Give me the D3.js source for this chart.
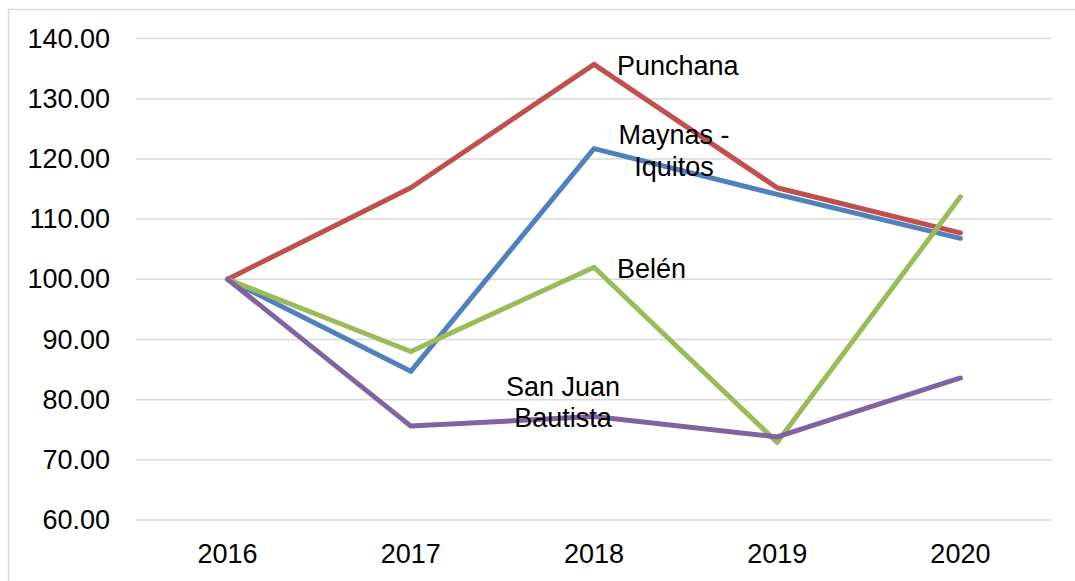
<!DOCTYPE html>
<html>
<head>
<meta charset="utf-8">
<script src="https://cdn.jsdelivr.net/npm/d3@7"></script>
<style>
  body { margin: 0; background: #fff; }
  text { font-family: "Liberation Sans", Arial, sans-serif; fill: #000; }
</style>
</head>
<body>
<div id="chart"></div>
<script>
// categories
var years = ['2016', '2017', '2018', '2019', '2020'];

// series values (index, 2016 = 100)
var maynas   = [100, 84.7, 121.7, 114.1, 106.8];
var punchana = [100, 115.2, 135.7, 115.2, 107.7];
var belen    = [100, 88.0, 102.0, 72.9, 113.7];
var sanJuan  = [100, 75.6, 77.2, 73.8, 83.6];

// y tick labels
var yTicks = [60, 70, 80, 90, 100, 110, 120, 130, 140];

var width = 1075, height = 581;
var margin = { left: 136, right: 23, top: 38.5, bottom: 61 };

var svg = d3.select('#chart')
  .append('svg')
  .attr('width', width)
  .attr('height', height);

// outer chart border (left + top only visible)
svg.append('path')
  .attr('d', 'M8.5,' + height + 'V9.5H' + width)
  .attr('fill', 'none')
  .attr('stroke', '#d9d9d9')
  .attr('stroke-width', 1.5);

var x = d3.scaleBand()
  .domain(years)
  .range([margin.left, width - margin.right]);

var y = d3.scaleLinear()
  .domain([60, 140])
  .range([height - margin.bottom, margin.top]);

function cx(d) { return x(d) + x.bandwidth() / 2; }

// gridlines
svg.append('g')
  .selectAll('line')
  .data(yTicks)
  .enter()
  .append('line')
  .attr('x1', margin.left)
  .attr('x2', width - margin.right)
  .attr('y1', function(d){ return y(d); })
  .attr('y2', function(d){ return y(d); })
  .attr('stroke', '#d9d9d9')
  .attr('stroke-width', 1.5);

// y axis labels
var yAxis = svg.append('g')
  .attr('transform', 'translate(' + margin.left + ',0)')
  .call(d3.axisLeft(y).tickValues(yTicks).tickFormat(d3.format('.2f')).tickSize(0).tickPadding(26));
yAxis.select('.domain').remove();
yAxis.selectAll('text')
  .attr('font-size', 27)
  .attr('fill', '#000')
  .style('font-family', '"Liberation Sans", Arial, sans-serif');

// x axis labels
var xAxis = svg.append('g')
  .attr('transform', 'translate(0,' + (height - margin.bottom) + ')')
  .call(d3.axisBottom(x).tickSize(0).tickPadding(24));
xAxis.select('.domain').remove();
xAxis.selectAll('text')
  .attr('font-size', 27)
  .attr('fill', '#000')
  .style('font-family', '"Liberation Sans", Arial, sans-serif');

// drawing order: later series on top
var series = [
  { name: 'Maynas', values: maynas, color: '#4F81BD' },
  { name: 'Punchana', values: punchana, color: '#C0504D' },
  { name: 'Belén', values: belen, color: '#9BBB59' },
  { name: 'San Juan Bautista', values: sanJuan, color: '#8064A2' }
];

var line = d3.line()
  .x(function(d, i){ return cx(years[i]); })
  .y(function(d){ return y(d); });

svg.append('g')
  .selectAll('path')
  .data(series)
  .enter()
  .append('path')
  .attr('d', function(s){ return line(s.values); })
  .attr('fill', 'none')
  .attr('stroke', function(s){ return s.color; })
  .attr('stroke-width', 5)
  .attr('stroke-linejoin', 'round')
  .attr('stroke-linecap', 'round');

// data labels near the 2018 point
var labels = [
  { lines: ['Punchana'], values: punchana, anchor: 'start', dx: 23, dy: [11] },
  { lines: ['Maynas -', 'Iquitos'], values: maynas, anchor: 'middle', dx: 80, dy: [-5, 27] },
  { lines: ['Belén'], values: belen, anchor: 'start', dx: 23, dy: [11] },
  { lines: ['San Juan', 'Bautista'], values: sanJuan, anchor: 'middle', dx: -31, dy: [-20, 11] }
];

labels.forEach(function(l){
  var px = cx('2018'), py = y(l.values[2]);
  l.lines.forEach(function(t, i){
    svg.append('text')
      .attr('x', px + l.dx)
      .attr('y', py + l.dy[i])
      .attr('text-anchor', l.anchor)
      .attr('font-size', 27)
      .text(t);
  });
});
</script>
</body>
</html>
